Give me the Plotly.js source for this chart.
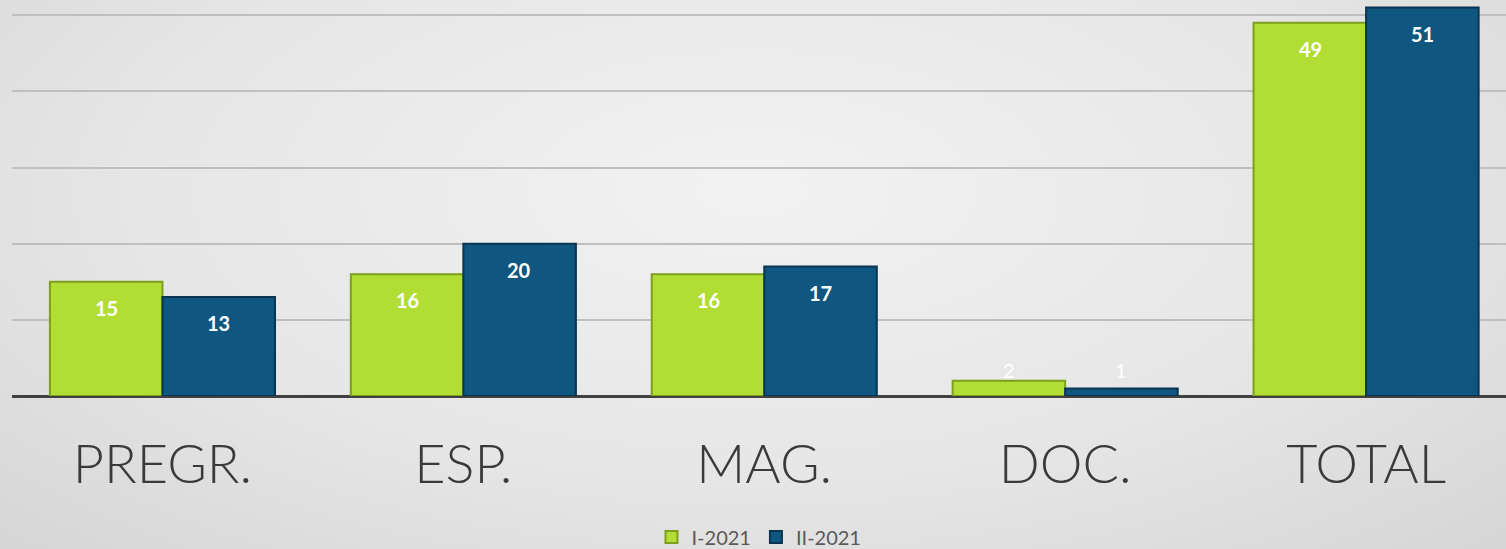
<!DOCTYPE html>
<html>
<head>
<meta charset="utf-8">
<script src="https://cdn.plot.ly/plotly-3.0.1.min.js"></script>
<style>
html, body { margin: 0; padding: 0; width: 1506px; height: 549px; overflow: hidden; }
body { background: radial-gradient(ellipse 75% 95% at 50% 35%, #f2f2f2 0%, #e6e6e6 55%, #d4d4d4 100%); }
#chart { width: 1506px; height: 549px; }
</style>
</head>
<body>
<div id="chart"></div>
<script>
const categories = ["PREGR.", "ESP.", "MAG.", "DOC.", "TOTAL"];
const seriesNames = ["I-2021", "II-2021"];
const valuesI = [15, 16, 16, 2, 49];
const valuesII = [13, 20, 17, 1, 51];

const colors = ["#b2dd35", "#0f5680"];
const lineColors = ["#7d9f1c", "#0a3550"];

const traces = [valuesI, valuesII].map((vals, k) => ({
  type: "bar",
  name: seriesNames[k],
  x: categories,
  y: vals,
  marker: { color: colors[k], line: { color: lineColors[k], width: 2 } },
  hoverinfo: "skip"
}));

const annotations = [];
[valuesI, valuesII].forEach((vals, k) => {
  vals.forEach((v, i) => {
    const big = v >= 5;
    annotations.push({
      x: categories[i], y: big ? v : 0, xref: "x", yref: "y",
      text: String(v), showarrow: false,
      xshift: k === 0 ? -56 : 56,
      yshift: big ? -26 : 26,
      yanchor: "middle",
      font: { family: "Lato, 'Open Sans', sans-serif", size: 20, color: "#ffffff", weight: big ? 700 : 400 }
    });
  });
});

const layout = {
  width: 1506, height: 549,
  margin: { l: 12, r: 0, t: 0, b: 153 },
  paper_bgcolor: "rgba(0,0,0,0)",
  plot_bgcolor: "rgba(0,0,0,0)",
  barmode: "group",
  bargap: 0.252,
  bargroupgap: 0,
  showlegend: true,
  legend: {
    orientation: "h", x: 0.5, xanchor: "center",
    y: 0.022, yanchor: "middle", yref: "container",
    font: { family: "Lato, 'Open Sans', sans-serif", size: 20, color: "#595959", weight: 400 },
    bgcolor: "rgba(0,0,0,0)", itemwidth: 30, traceorder: "normal"
  },
  xaxis: {
    type: "category",
    range: [-0.5, 4.465],
    showgrid: false, zeroline: false, showline: false,
    ticks: "", ticklabelstandoff: 32,
    tickfont: { family: "Lato, 'Open Sans', sans-serif", size: 54, color: "#3a3a3a", weight: 300 },
    fixedrange: true
  },
  yaxis: {
    range: [0, 52],
    dtick: 10,
    showticklabels: false,
    showgrid: true, gridcolor: "#bfbfbf", gridwidth: 2,
    zeroline: true, zerolinecolor: "#404040", zerolinewidth: 3,
    fixedrange: true
  },
  annotations: annotations
};

Plotly.newPlot("chart", traces, layout, { displayModeBar: false, staticPlot: true });
</script>
</body>
</html>
